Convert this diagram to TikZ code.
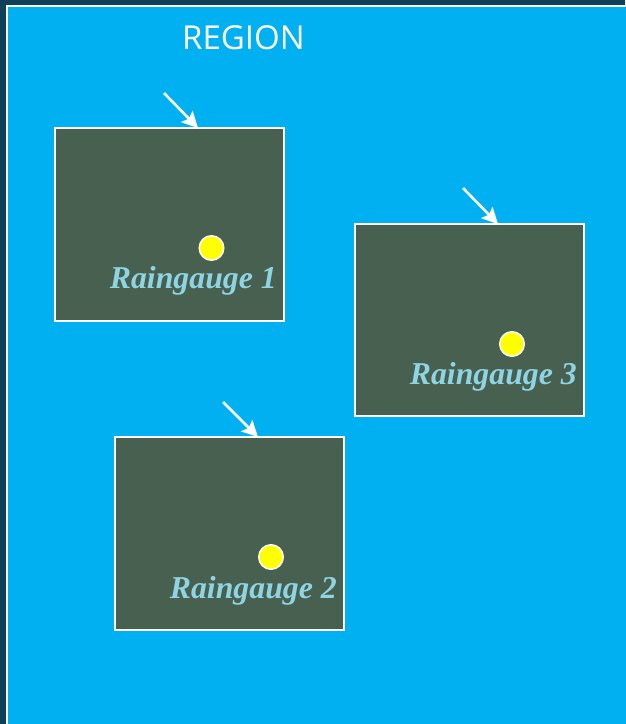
\documentclass[tikz,border=0pt]{standalone}
\usepackage{fontspec}
\setmainfont{Liberation Serif}
\newfontfamily\regionfont{Open Sans}
\usetikzlibrary{arrows.meta}
\definecolor{framenavy}{HTML}{103F58}
\definecolor{skyfill}{HTML}{00B0F0}
\definecolor{gaugefill}{HTML}{476050}
\definecolor{labelblue}{HTML}{8ED4E2}
\definecolor{dotyellow}{HTML}{FFFF00}
\tikzset{
  gaugebox/.style={draw=white, line width=1.6pt, fill=gaugefill,
    minimum width=229pt, minimum height=193pt, inner sep=0pt},
  gaugedot/.style={circle, draw=white, line width=1.5pt, fill=dotyellow,
    minimum size=24.5pt, inner sep=0pt},
  gaugelabel/.style={anchor=base east, inner sep=0pt, text=labelblue,
    font=\fontsize{31.8}{36}\selectfont\bfseries\itshape},
  inflow/.style={draw=white, line width=2.6pt,
    -{Stealth[length=16pt, width=16pt, inset=3pt]}},
}
\begin{document}
\begin{tikzpicture}[x=1pt, y=-1pt]
\useasboundingbox (0,0) rectangle (625,724);
% dark frame and the region area
\fill[framenavy] (0,0) rectangle (625,724);
\draw[white, line width=2pt, fill=skyfill] (7,6) rectangle (640,740);
\node[text=white, font=\regionfont\fontsize{33}{38}\selectfont] (region) at (243.5,38) {REGION};

% catchments
\node[gaugebox] (b1) at (169.5,224.5) {};
\node[gaugebox, minimum height=192pt] (b3) at (469.5,320) {};
\node[gaugebox] (b2) at (229.5,533.5) {};

% raingauges
\node[gaugedot] (d1) at (211.5,248) {};
\node[gaugedot] (d3) at (512,344) {};
\node[gaugedot] (d2) at (271,557) {};

\node[gaugelabel] (l1) at (277,288) {Raingauge 1};
\node[gaugelabel] (l3) at (577,384) {Raingauge 3};
\node[gaugelabel] (l2) at (337,598) {Raingauge 2};

% inflow arrows onto the catchment tops
\coordinate (s1) at (164,93);   \coordinate (t1) at (198,128);
\coordinate (s3) at (463,188);  \coordinate (t3) at (498,224);
\coordinate (s2) at (223,402);  \coordinate (t2) at (258,437);
\draw[inflow] (s1) -- (t1);
\draw[inflow] (s3) -- (t3);
\draw[inflow] (s2) -- (t2);
\end{tikzpicture}
\end{document}
